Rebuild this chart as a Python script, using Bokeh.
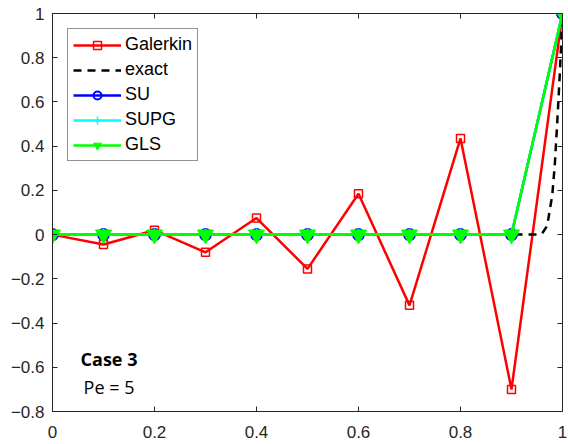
from bokeh.plotting import figure
from bokeh.models import (Range1d, LinearAxis, Label, Legend, LegendItem, FixedTicker,
                          CustomJSTickFormatter)
from bokeh.embed import file_html
from bokeh.resources import INLINE

x_nodes = [0.0, 0.1, 0.2, 0.3, 0.4, 0.5, 0.6, 0.7, 0.8, 0.9, 1.0]
galerkin = [0.0, -0.045, 0.02, -0.08, 0.075, -0.155, 0.185, -0.32, 0.435, -0.70, 1.0]
su = [0, 0, 0, 0, 0, 0, 0, 0, 0, 0, 1.0]
supg = [0, 0, 0, 0, 0, 0, 0, 0, 0, 0, 1.0]
gls = [0, 0, 0, 0, 0, 0, 0, 0, 0, 0, 1.0]
x_exact = [0.0, 0.1, 0.2, 0.3, 0.4, 0.5, 0.6, 0.7, 0.8, 0.9, 0.94, 0.95, 0.96, 0.97, 0.98, 0.985, 0.99, 0.995, 1.0]
exact = [0, 0, 0, 0, 0, 0, 0, 0, 0, 0, 0.0, 0.0, 0.005, 0.04, 0.18, 0.32, 0.52, 0.74, 1.0]
x_ticks = [0, 0.2, 0.4, 0.6, 0.8, 1]
y_ticks = [-0.8, -0.6, -0.4, -0.2, 0, 0.2, 0.4, 0.6, 0.8, 1]

FONT = "Liberation Sans"
AX = "#262626"

p = figure(width=568, height=444, output_backend="svg", toolbar_location=None,
           x_range=Range1d(0, 1), y_range=Range1d(-0.8, 1),
           min_border_left=52, min_border_right=6, min_border_top=13, min_border_bottom=33,
           x_axis_location=None, y_axis_location=None)
p.grid.visible = False
p.outline_line_color = AX
p.outline_line_width = 1
p.background_fill_color = "white"
p.border_fill_color = "white"

def make_axis(ticks, show_labels, standoff=8):
    ax = LinearAxis(ticker=FixedTicker(ticks=ticks))
    ax.axis_line_color = AX
    ax.major_tick_in = 5
    ax.major_tick_out = 0
    ax.minor_tick_line_color = None
    ax.major_tick_line_color = AX
    ax.major_label_text_font = FONT
    ax.major_label_text_color = AX
    ax.major_label_text_font_size = "17px"
    ax.major_label_standoff = standoff
    if not show_labels:
        ax.formatter = CustomJSTickFormatter(code="return ''")
        ax.major_label_standoff = 0
    return ax

bx = make_axis(x_ticks, True, standoff=14)
bx.major_label_overrides = {0: "0", 1: "1"}
p.add_layout(bx, "below")
ly = make_axis(y_ticks, True, standoff=8)
ly.major_label_overrides = {0: "0", 1: "1"}
p.add_layout(ly, "left")
p.add_layout(make_axis(x_ticks, False), "above")
p.add_layout(make_axis(y_ticks, False), "right")

r1l = p.line(x_nodes, galerkin, line_color="red", line_width=2.5)
r1m = p.scatter(x_nodes, galerkin, marker="square", size=8, fill_color=None, line_color="red", line_width=1.5)
r2 = p.line(x_exact, exact, line_color="black", line_width=2.5, line_dash="8 6")
r3l = p.line(x_nodes, su, line_color="blue", line_width=2.5)
r3m = p.scatter(x_nodes, su, marker="circle", size=11, fill_color=None, line_color="blue", line_width=2)
r4l = p.line(x_nodes, supg, line_color="cyan", line_width=2.5)
r4m = p.scatter(x_nodes, supg, marker="cross", size=12, line_color="cyan", line_width=1.5)
r5l = p.line(x_nodes, gls, line_color="#00ff00", line_width=2.5)
r5m = p.scatter(x_nodes, gls, marker="inverted_triangle", size=16, fill_color="#00ff00", line_color="#00ff00")

legend = Legend(items=[
    LegendItem(label="Galerkin", renderers=[r1l, r1m]),
    LegendItem(label="exact", renderers=[r2]),
    LegendItem(label="SU", renderers=[r3l, r3m]),
    LegendItem(label="SUPG", renderers=[r4l, r4m]),
    LegendItem(label="GLS", renderers=[r5l, r5m]),
])
legend.location = "top_left"
legend.margin = 15
legend.label_text_font = FONT
legend.label_text_font_size = "18px"
legend.label_text_color = "black"
legend.glyph_width = 48
legend.glyph_height = 20
legend.label_standoff = 4
legend.spacing = 4
legend.padding = 5
legend.border_line_color = AX
legend.border_line_width = 1
legend.background_fill_alpha = 1
p.add_layout(legend, "center")

p.add_layout(Label(x=0.055, y=-0.561, text="Case 3", text_font="Open Sans", text_font_style="bold",
                   text_font_size="18px", text_color="black", text_baseline="alphabetic"))
p.add_layout(Label(x=0.061, y=-0.687, text="Pe = 5", text_font="Open Sans",
                   text_font_size="18px", text_color="black", text_baseline="alphabetic"))

open("out.html", "w").write(file_html(p, INLINE))
